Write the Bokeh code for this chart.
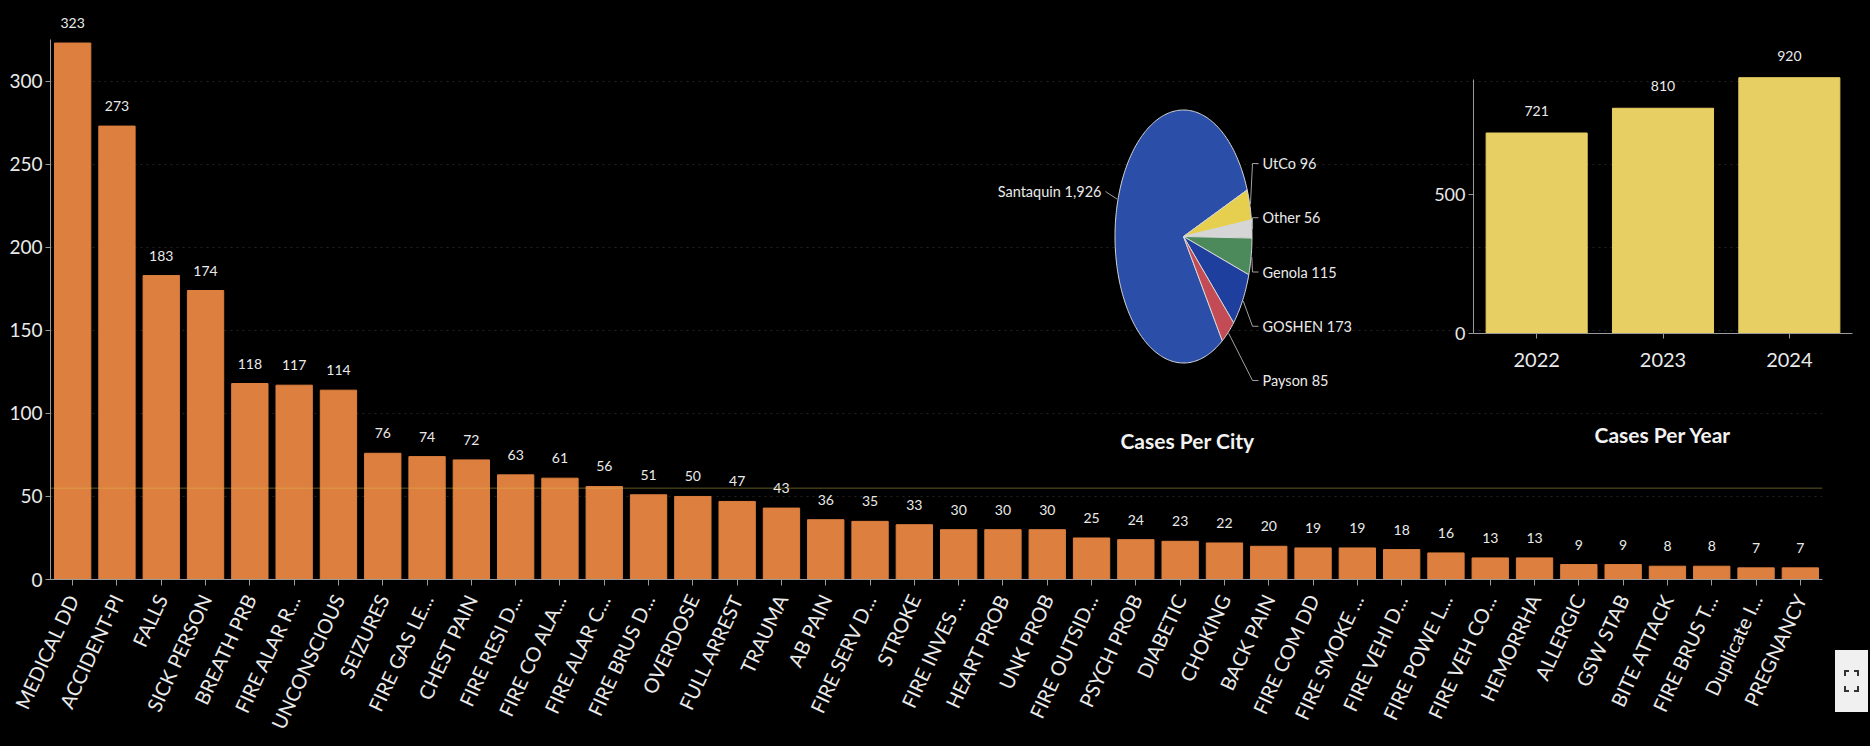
import math
from bokeh.plotting import figure
from bokeh.models import (ColumnDataSource, LabelSet, Range1d, FactorRange,
                          SingleIntervalTicker, Span, Div)
from bokeh.core.properties import value
from bokeh.embed import file_html
from bokeh.resources import INLINE

# ---------------- data ----------------
call_types = ["MEDICAL DD", "ACCIDENT-PI", "FALLS", "SICK PERSON", "BREATH PRB", "FIRE ALAR R...",
              "UNCONSCIOUS", "SEIZURES", "FIRE GAS LE...", "CHEST PAIN", "FIRE RESI D...",
              "FIRE CO ALA...", "FIRE ALAR C...", "FIRE BRUS D...", "OVERDOSE", "FULL ARREST",
              "TRAUMA", "AB PAIN", "FIRE SERV D...", "STROKE", "FIRE INVES ...", "HEART PROB",
              "UNK PROB", "FIRE OUTSID...", "PSYCH PROB", "DIABETIC", "CHOKING", "BACK PAIN",
              "FIRE COM DD", "FIRE SMOKE ...", "FIRE VEHI D...", "FIRE POWE L...", "FIRE VEH CO...",
              "HEMORRHA", "ALLERGIC", "GSW STAB", "BITE ATTACK", "FIRE BRUS T...", "Duplicate I...",
              "PREGNANCY"]
call_counts = [323, 273, 183, 174, 118, 117, 114, 76, 74, 72, 63, 61, 56, 51, 50, 47, 43, 36, 35, 33,
               30, 30, 30, 25, 24, 23, 22, 20, 19, 19, 18, 16, 13, 13, 9, 9, 8, 8, 7, 7]
reference_line = 55

cities = ["Santaquin", "UtCo", "Other", "Genola", "GOSHEN", "Payson"]
city_cases = [1926, 96, 56, 115, 173, 85]

years = ["2022", "2023", "2024"]
year_cases = [721, 810, 920]

# ---------------- style ----------------
FONT = "Lato"
TXT = "#eaeaea"
BG = "#000000"
AXIS = "#9a9a9a"
ORANGE = "#DD7F3F"
YELLOW = "#E8CF63"
CITY_COLORS = ["#2B4FA8", "#E6CF4E", "#D6D6D6", "#4C8A5C", "#1E3F9E", "#C24B55"]


def style_axes(p, tick_size):
    for ax in (p.xaxis[0], p.yaxis[0]):
        ax.axis_line_color = AXIS
        ax.major_tick_line_color = AXIS
        ax.minor_tick_line_color = None
        ax.major_tick_in = 0
        ax.major_tick_out = 5
        ax.major_label_text_color = TXT
        ax.major_label_text_font = FONT
        ax.major_label_text_font_size = tick_size


# ---------------- main bar chart ----------------
main_src = ColumnDataSource(dict(t=call_types, c=call_counts, lab=[str(v) for v in call_counts]))
main = figure(width=1870, height=746, x_range=FactorRange(factors=call_types),
              y_range=Range1d(0, 345), output_backend="svg", toolbar_location=None,
              background_fill_color=BG, border_fill_color=BG,
              min_border_left=50, min_border_right=48, min_border_top=6, min_border_bottom=167,
              styles={"background-color": BG})
main.outline_line_color = None
main.vbar(x="t", top="c", width=0.82, color=ORANGE, source=main_src)
main.add_layout(LabelSet(x="t", y="c", text="lab", source=main_src, y_offset=20,
                         text_align="center", text_baseline="middle", text_color=TXT,
                         text_font=value(FONT), text_font_size="14px"))
main.add_layout(Span(location=reference_line, dimension="width", line_color="#d8c250",
                     line_alpha=0.45, line_width=1))
style_axes(main, "19px")
main.yaxis.ticker = SingleIntervalTicker(interval=50)
main.yaxis.bounds = (0, 325)
main.yaxis.major_label_standoff = 3
main.xaxis.major_label_orientation = math.radians(65)
main.xaxis.major_label_text_font_size = "20px"
main.xaxis.major_label_standoff = 10
main.xaxis.major_tick_out = 6
main.xgrid.grid_line_color = None
main.ygrid.grid_line_color = "#222222"
main.ygrid.grid_line_dash = "2 4"

# ---------------- pie chart (overlay) ----------------
RX, RY = 68.5, 126.5          # ellipse radii (px)
PIE_START = -55.5             # degrees, slices run clockwise
total = sum(city_cases)
xs, ys, mids = [], [], []
cum = 0
for v in city_cases:
    a0 = PIE_START - cum / total * 360
    a1 = a0 - v / total * 360
    n = max(8, int(abs(a1 - a0)))
    ts = [math.radians(a0 + (a1 - a0) * k / n) for k in range(n + 1)]
    xs.append([0] + [RX * math.cos(t) for t in ts])
    ys.append([0] + [RY * math.sin(t) for t in ts])
    mids.append(math.radians((a0 + a1) / 2))
    cum += v

pie = figure(width=480, height=460, x_range=Range1d(-223, 257), y_range=Range1d(-224, 236),
             output_backend="svg", toolbar_location=None, background_fill_color=None,
             border_fill_color=None,
             min_border_left=0, min_border_right=0, min_border_top=0, min_border_bottom=0,
             styles={"position": "absolute", "left": "960px", "top": "0px"})
pie.outline_line_color = None
pie.axis.visible = False
pie.grid.grid_line_color = None
pie.patches(xs, ys, fill_color=CITY_COLORS, line_color="#d8d8d8", line_width=1)

LEFT_X, LEFT_Y = -82, 45
RIGHT_X, RIGHT_TOP, RIGHT_STEP = 79, 73, 54.25
lx, ly, la, ltxt, lines_x, lines_y = [], [], [], [], [], []
ri = 0
for name, v, m in zip(cities, city_cases, mids):
    ex, ey = RX * 1.01 * math.cos(m), RY * 1.01 * math.sin(m)
    if math.cos(m) < 0:
        lx.append(LEFT_X); ly.append(LEFT_Y); la.append("right")
        lines_x.append([ex, LEFT_X + 4]); lines_y.append([ey, LEFT_Y])
    else:
        yy = RIGHT_TOP - RIGHT_STEP * ri
        ri += 1
        lx.append(RIGHT_X); ly.append(yy); la.append("left")
        lines_x.append([ex, RIGHT_X - 10, RIGHT_X - 4]); lines_y.append([ey, yy, yy])
    ltxt.append(f"{name} {v:,}")
pie.multi_line(lines_x, lines_y, line_color="#a0a0a0", line_width=1)
pie.text(x=lx, y=ly, text=ltxt, text_align=la, text_baseline="middle", text_color=TXT,
         text_font=value(FONT), text_font_size="14.5px")
pie.text(x=[4], y=[-204], text=["Cases Per City"], text_align="center", text_baseline="middle",
         text_color="#f2f2f2", text_font=value(FONT), text_font_size="21px", text_font_style="bold")

# ---------------- year bar chart (overlay) ----------------
year_src = ColumnDataSource(dict(y=years, c=year_cases, lab=[str(v) for v in year_cases]))
yr = figure(width=470, height=460, x_range=FactorRange(factors=years), y_range=Range1d(0, 1025),
            output_backend="svg", toolbar_location=None, background_fill_color=None,
            border_fill_color=None,
            min_border_left=73, min_border_right=18, min_border_top=48, min_border_bottom=127,
            styles={"position": "absolute", "left": "1400px", "top": "0px"})
yr.outline_line_color = None
yr.vbar(x="y", top="c", width=0.8, color=YELLOW, source=year_src)
yr.add_layout(LabelSet(x="y", y="c", text="lab", source=year_src, y_offset=22,
                       text_align="center", text_baseline="middle", text_color=TXT,
                       text_font=value(FONT), text_font_size="14px"))
style_axes(yr, "18px")
yr.yaxis.ticker = SingleIntervalTicker(interval=500)
yr.yaxis.bounds = (0, 914)
yr.yaxis.major_label_standoff = 3
yr.xaxis.major_label_text_font_size = "20px"
yr.xaxis.major_label_standoff = 14
yr.xaxis.axis_label = "Cases Per Year"
yr.xaxis.axis_label_text_font = FONT
yr.xaxis.axis_label_text_font_size = "21px"
yr.xaxis.axis_label_text_font_style = "bold"
yr.xaxis.axis_label_text_color = "#f2f2f2"
yr.xaxis.axis_label_standoff = 52
yr.grid.grid_line_color = None

# ---------------- "focus mode" button in the corner ----------------
bracket = "position:absolute;width:5px;height:6px;border-color:#333;border-style:solid;"
icon = Div(width=33, height=62,
           text=('<div style="position:relative;width:33px;height:62px;background:#f0f0f0;">'
                 f'<div style="{bracket}left:9px;top:20px;border-width:2px 0 0 2px;"></div>'
                 f'<div style="{bracket}right:9px;top:20px;border-width:2px 2px 0 0;"></div>'
                 f'<div style="{bracket}left:9px;bottom:20px;border-width:0 0 2px 2px;"></div>'
                 f'<div style="{bracket}right:9px;bottom:20px;border-width:0 2px 2px 0;"></div>'
                 '</div>'),
           styles={"position": "absolute", "left": "1830px", "top": "645px"})

open("out.html", "w").write(file_html([main, pie, yr, icon], INLINE))
